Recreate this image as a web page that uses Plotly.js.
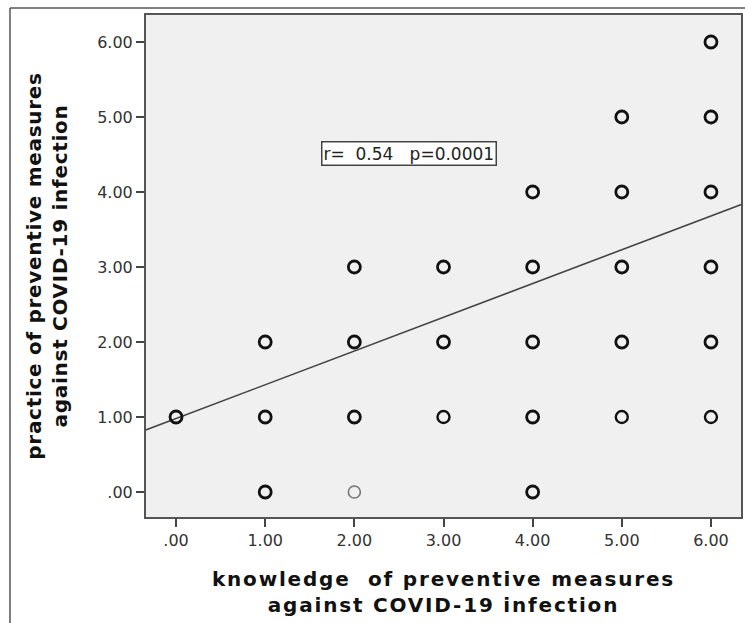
<!DOCTYPE html>
<html><head><meta charset="utf-8">
<script src="https://cdn.plot.ly/plotly-3.0.1.min.js"></script>
<style>
html,body{margin:0;padding:0;background:#fff;}
#chart{width:745px;height:623px;}
#chart .xtitle{letter-spacing:1.8px;}
#chart .ytitle{letter-spacing:0.7px;}
</style>
</head><body><div id="chart"></div>
<script>
// knowledge score (x) and practice score (y) of observed points
const knowledge = [0, 1,1,1, 2,2,2,2, 3,3,3, 4,4,4,4,4, 5,5,5,5,5, 6,6,6,6,6,6];
const practice  = [1, 0,1,2, 0,1,2,3, 1,2,3, 0,1,2,3,4, 1,2,3,4,5, 1,2,3,4,5,6];
// relative overlap (frequency) read from how dark each circle is: 3 heavy, 2 normal, 1 light
const overlap   = [3, 3,3,3, 1,3,3,3, 2,3,3, 3,3,3,3,3, 2,3,3,3,3, 2,3,3,3,3,3];
// fitted regression line
const fitIntercept = 0.98;
const fitSlope = 0.45;
const fitRange = [-0.34, 6.34];
const tickVals = [0,1,2,3,4,5,6];
const tickText = ['.00','1.00','2.00','3.00','4.00','5.00','6.00'];
const statText = 'r=  0.54   p=0.0001';

const fitY = fitRange.map(x => fitIntercept + fitSlope * x);
const mColor = overlap.map(o => o===1 ? '#777' : '#111');
const mWidth = overlap.map(o => o===3 ? 2.8 : (o===2 ? 2.4 : 1.6));

const traces = [
  {x: fitRange, y: fitY, mode:'lines', line:{color:'#444', width:1.6}, hoverinfo:'skip', showlegend:false},
  {x: knowledge, y: practice, mode:'markers', showlegend:false,
   marker:{symbol:'circle-open', size:12, color:mColor, line:{width:mWidth, color:mColor}}}
];

const tickFont = {family:'DejaVu Sans, sans-serif', size:16, color:'#333'};
const titleFont = {family:'DejaVu Sans, sans-serif', size:20, color:'#111', weight:'bold'};

const layout = {
  width:745, height:623,
  margin:{l:146, r:4, t:15, b:106, pad:0},
  paper_bgcolor:'#fff', plot_bgcolor:'#f0f0f0',
  xaxis:{range:[-0.337,6.337], tickvals:tickVals, ticktext:tickText, ticks:'outside', ticklen:8, tickwidth:2, tickcolor:'#444',
    showgrid:false, zeroline:false, showline:true, linecolor:'#555', linewidth:2, mirror:true, tickfont:tickFont,
    title:{text:'<b>knowledge  of preventive measures<br>against COVID-19 infection</b>', font:titleFont, standoff:23}},
  yaxis:{range:[-0.333,6.36], tickvals:tickVals, ticktext:tickText, ticks:'outside', ticklen:8, tickwidth:2, tickcolor:'#444',
    showgrid:false, zeroline:false, showline:true, linecolor:'#555', linewidth:2, mirror:true, tickfont:tickFont,
    title:{text:'<b>practice of preventive measures<br>against COVID-19 infection</b>', font:titleFont, standoff:24}},
  annotations:[{x:2.61, y:4.52, xref:'x', yref:'y', text:statText.replace(/ /g,'\u00a0'), showarrow:false,
    font:{family:'DejaVu Sans, sans-serif', size:17, color:'#222'},
    bgcolor:'#fff', bordercolor:'#444', borderwidth:1.5, borderpad:1}],
  shapes:[
    {type:'line', xref:'paper', yref:'paper', x0:-0.2286, x1:-0.2286, y0:1.0139, y1:-0.3, line:{color:'#555', width:1.5}},
    {type:'line', xref:'paper', yref:'paper', x0:-0.2286, x1:1.02, y0:1.0139, y1:1.0139, line:{color:'#555', width:1.5}}
  ]
};
Plotly.newPlot('chart', traces, layout, {displayModeBar:false, staticPlot:true});
</script></body></html>
